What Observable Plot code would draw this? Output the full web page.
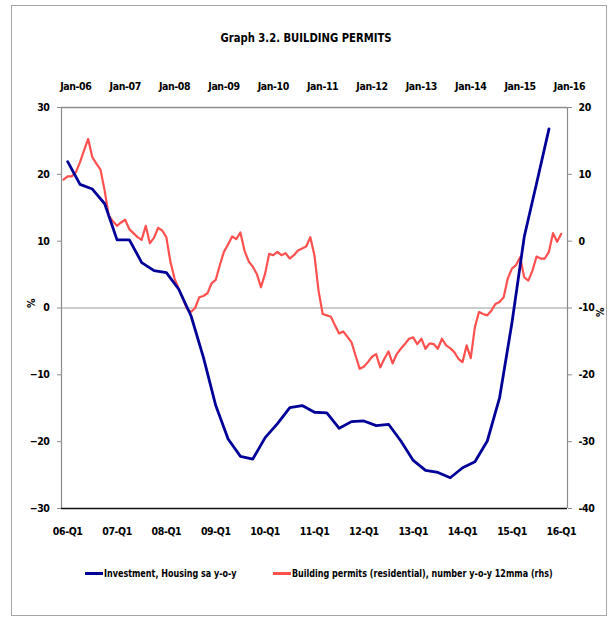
<!DOCTYPE html>
<html>
<head>
<meta charset="utf-8">
<script src="https://cdn.jsdelivr.net/npm/d3@7"></script>
<script src="https://cdn.jsdelivr.net/npm/@observablehq/plot@0.6"></script>
<style>
  html, body { margin: 0; padding: 0; background: #fff; }
  body { width: 610px; height: 619px; position: relative; overflow: hidden;
         font-family: "DejaVu Sans Condensed", "Liberation Sans Narrow", "Liberation Sans", sans-serif; }
  #frame { position: absolute; left: 11px; top: 5px; width: 596px; height: 611px; border: 1px solid #a6a6a6; box-sizing: border-box; }
  #title { position: absolute; left: 0; width: 612px; top: 30px; text-align: center; font-weight: bold; font-size: 13px; color: #000;
           transform: scaleX(0.86); transform-origin: 306px 0; }
  #chart { position: absolute; left: 0; top: 55px; }
  #legend { position: absolute; top: 567px; left: 0; width: 610px; font-size: 10.5px; font-weight: bold; color: #000; }
  .item { position: absolute; top: 0; white-space: nowrap; display: flex; align-items: center; }
  .txt { display: inline-block; transform: scaleX(0.85); transform-origin: 0 50%; }
  .sw { display: inline-block; width: 18px; height: 3px; margin-right: 1px; }
</style>
</head>
<body>
<div id="frame"></div>
<div id="title">Graph 3.2. BUILDING PERMITS</div>
<div id="chart"></div>
<div id="legend">
  <div class="item" style="left:85px"><span class="sw" style="background:#000099"></span><span class="txt" id="l1"></span></div>
  <div class="item" style="left:273px"><span class="sw" style="background:#ff5050"></span><span class="txt" id="l2"></span></div>
</div>
<script>
// ---- data ----
const seriesNames = ["Investment, Housing sa y-o-y", "Building permits (residential), number y-o-y 12mma (rhs)"];
const bottomLabels = ["06-Q1","07-Q1","08-Q1","09-Q1","10-Q1","11-Q1","12-Q1","13-Q1","14-Q1","15-Q1","16-Q1"];
const topLabels = ["Jan-06","Jan-07","Jan-08","Jan-09","Jan-10","Jan-11","Jan-12","Jan-13","Jan-14","Jan-15","Jan-16"];
const labelYears = [2006,2007,2008,2009,2010,2011,2012,2013,2014,2015,2016];
const leftTicks = [-30,-20,-10,0,10,20,30];
const rightTicks = [-40,-30,-20,-10,0,10,20];

// quarterly, 2006Q1 .. 2015Q4 (lhs, %)
const investment = [21.9,18.5,17.8,15.6,10.2,10.2,6.8,5.6,5.3,2.8,-1.2,-7.4,-14.6,-19.6,-22.2,-22.6,
  -19.4,-17.3,-14.9,-14.6,-15.6,-15.7,-18.0,-17.0,-16.9,-17.6,-17.4,-19.9,-22.8,-24.3,-24.6,-25.4,
  -23.9,-23.0,-19.9,-13.4,-2.2,10.7,18.7,26.8];
const invStart = [2006, 1];

// monthly, Oct 2005 .. Nov 2015 (rhs, %)
const permits = [9.2,9.7,9.7,10.3,11.8,13.6,15.3,12.6,11.6,10.7,7.6,3.8,
  3.0,2.3,2.8,3.2,1.8,1.2,0.6,0.2,2.3,-0.3,0.5,2.0,
  1.6,0.6,-3.1,-5.6,-7.1,-8.6,-10.1,-10.6,-10.0,-8.4,-8.2,-7.8,
  -6.3,-5.8,-3.6,-1.6,-0.5,0.7,0.3,1.3,-1.4,-3.0,-3.8,-4.9,
  -6.9,-4.9,-1.9,-2.1,-1.6,-2.1,-1.8,-2.6,-2.1,-1.4,-1.1,-0.8,
  0.6,-2.1,-7.4,-10.9,-11.1,-11.3,-12.6,-13.8,-13.5,-14.3,-15.1,-17.1,
  -19.1,-18.8,-18.1,-17.3,-16.9,-18.9,-17.6,-16.5,-18.3,-16.9,-16.1,-15.4,
  -14.6,-14.4,-15.4,-14.6,-16.1,-15.3,-15.4,-16.1,-14.6,-15.6,-16.0,-16.6,
  -17.6,-18.1,-15.6,-17.5,-12.9,-10.6,-10.9,-11.1,-10.4,-9.4,-9.1,-8.4,
  -5.6,-4.1,-3.6,-2.4,-5.4,-5.9,-4.4,-2.3,-2.6,-2.6,-1.6,1.2,
  -0.1,1.1];
const permStart = [2005, 10];

// ---- layout helpers ----
const monthShift = 0.165;           // secondary (monthly) category axis offset
const rhsOffset = 10;                // rhs = lhs - 10
const qT = (y, q) => y + (q - 1) / 4;
const mT = (y, m) => y + (m - 1) / 12 + monthShift;

const invData = investment.map((v, i) => {
  const q0 = invStart[1] - 1 + i;
  return { t: qT(invStart[0] + Math.floor(q0 / 4), (q0 % 4) + 1), v };
});
const permData = permits.map((v, i) => {
  const m0 = permStart[1] - 1 + i;
  return { t: mT(permStart[0] + Math.floor(m0 / 12), (m0 % 12) + 1), v: v + rhsOffset };
});

const xDomain = [qT(2006, 1) - 0.125, qT(2016, 1) + 0.125];
const FONT = '"DejaVu Sans Condensed", "Liberation Sans Narrow", "Liberation Sans", sans-serif';
const FS = 10.5;

const chart = Plot.plot({
  width: 610,
  height: 500,
  marginTop: 52,
  marginBottom: 47,
  marginLeft: 61,
  marginRight: 43,
  style: { fontFamily: FONT, fontSize: FS + "px", fontWeight: "bold", letterSpacing: "-0.4px", color: "#000", background: "transparent", overflow: "visible" },
  x: { type: "linear", domain: xDomain },
  y: { domain: [-30, 30] },
  marks: [
    Plot.ruleY([0], { stroke: "#9a9a9a", strokeWidth: 1.2 }),
    Plot.ruleY([30], { stroke: "#8c8c8c", strokeWidth: 1.5 }),
    Plot.ruleX([xDomain[0], xDomain[1]], { y1: -30, y2: 30, stroke: "#8c8c8c", strokeWidth: 1.2 }),
    Plot.ruleY([-30], { stroke: "#111", strokeWidth: 1.5 }),
    Plot.axisY({ anchor: "left", ticks: leftTicks, tickSize: 4, tickPadding: 8, stroke: "#8c8c8c", fill: "#000", label: null, fontWeight: "bold", fontSize: FS }),
    Plot.axisY({ anchor: "right", ticks: leftTicks, tickFormat: d => String(d - rhsOffset), tickSize: 4, tickPadding: 7, stroke: "#8c8c8c", fill: "#000", label: null, fontWeight: "bold", fontSize: FS }),
    Plot.axisX({ anchor: "top", ticks: labelYears.map(y => mT(y, 1)), tickFormat: (d, i) => topLabels[i], tickSize: 0, tickPadding: 18, label: null, fill: "#000", fontWeight: "bold", fontSize: FS }),
    Plot.axisX({ anchor: "bottom", ticks: labelYears.map(y => qT(y, 1)), tickFormat: (d, i) => bottomLabels[i], tickSize: 0, tickPadding: 19, label: null, fill: "#000", fontWeight: "bold", fontSize: FS }),
    Plot.text(["%"], { frameAnchor: "left", y: () => 0, dx: -30, rotate: -90, fill: "#000", fontWeight: "bold", fontSize: FS }),
    Plot.text(["%"], { frameAnchor: "right", y: () => 0, dx: 33, rotate: -90, fill: "#000", fontWeight: "bold", fontSize: FS }),
    Plot.line(permData, { x: "t", y: "v", stroke: "#ff5050", strokeWidth: 2.2, curve: "linear" }),
    Plot.line(invData, { x: "t", y: "v", stroke: "#000099", strokeWidth: 2.8, curve: "linear" })
  ]
});
document.getElementById("chart").appendChild(chart);
document.getElementById("l1").textContent = seriesNames[0];
document.getElementById("l2").textContent = seriesNames[1];
</script>
</body>
</html>
